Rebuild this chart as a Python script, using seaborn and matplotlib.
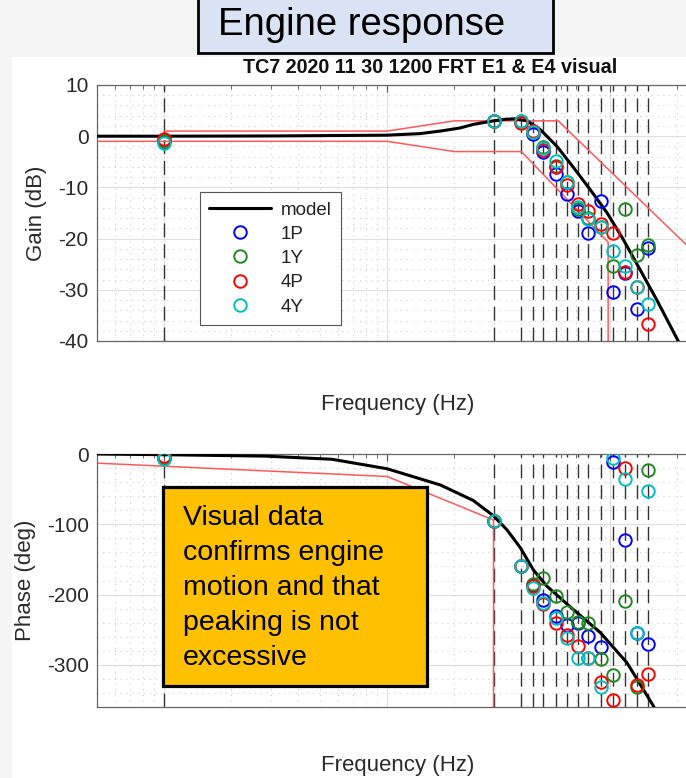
import matplotlib
matplotlib.use("Agg")
import matplotlib.pyplot as plt
import seaborn as sns
from matplotlib.lines import Line2D
from matplotlib.patches import Rectangle
from matplotlib.ticker import LogLocator, MultipleLocator, NullFormatter

# ---------------------------------------------------------------- data
# test frequencies (Hz)
freq = [0.01, 0.30, 0.40, 0.45, 0.50, 0.57, 0.64, 0.72, 0.80, 0.91, 1.03, 1.17, 1.32, 1.48]

gain_1P = [-1.0, 3.0, 2.7, 0.5, -3.0, -7.4, -11.3, -14.6, -18.9, -12.6, -30.4, -26.8, -33.8, -21.8]
gain_1Y = [-1.0, 3.0, 3.0, 0.8, -2.2, -5.8, -9.0, -14.3, -16.0, -17.7, -25.4, -14.3, -23.2, -21.2]
gain_4P = [-0.6, 3.0, 2.5, 1.0, -2.6, -6.1, -9.5, -13.3, -14.6, -17.2, -19.0, -26.5, -29.4, -36.6]
gain_4Y = [-1.3, 3.0, 3.0, 0.8, -2.4, -4.8, -9.0, -13.9, -16.2, -17.8, -22.5, -25.3, -29.4, -32.8]

phase_1P = [-6, -96, -159, -186, -208, -230, -243, -241, -259, -274, -12, -122, -254, -271]
phase_1Y = [-6, -96, -159, -185, -176, -202, -225, -239, -240, -292, -315, -209, -332, -23]
phase_4P = [-3, -96, -159, -188, -214, -240, -257, -273, -290, -325, -350, -20, -328, -313]
phase_4Y = [-7, -96, -159, -190, -212, -234, -262, -290, -290, -331, -5, -36, -254, -52]

# engine model response
model_gain_f = [0.005, 0.01, 0.0315, 0.1, 0.14, 0.173, 0.212, 0.243, 0.30, 0.338, 0.375,
                0.424, 0.486, 0.578, 0.682, 0.813, 0.97, 1.14, 1.36, 1.62, 2.02, 2.3]
model_gain_db = [0.0, 0.0, 0.05, 0.2, 0.5, 1.0, 1.6, 2.3, 3.0, 3.3, 3.4,
                 3.0, 1.3, -2.0, -6.0, -10.4, -15.0, -20.0, -26.0, -32.0, -40.0, -45.0]
model_phase_f = [0.005, 0.01, 0.0283, 0.0566, 0.1, 0.173, 0.243, 0.30, 0.345, 0.395,
                 0.453, 0.52, 0.682, 0.903, 1.19, 1.56, 1.7]
model_phase_deg = [0, -1, -3, -7.5, -21, -44, -66, -88, -108, -133,
                   -165, -188, -221, -254, -297, -358, -380]

# acceptance envelope
gain_hi_f = [0.01, 0.1, 0.2, 0.585, 2.6]
gain_hi_db = [1.0, 1.0, 3.0, 3.0, -24.3]
gain_lo_f = [0.005, 0.1, 0.2, 0.4, 0.98, 0.98]
gain_lo_db = [-1.0, -1.0, -3.0, -3.0, -20.7, -60.0]
phase_hi_f = [0.005, 1.0, 1.0]
phase_hi_deg = [0, 0, 400]
phase_lo_f = [0.005, 0.1, 0.3, 0.3]
phase_lo_deg = [-13, -32, -94, -500]

series = ["1P", "1Y", "4P", "4Y"]
series_colors = ["#0000ff", "#1f8a1f", "#ff0000", "#00bfbf"]
gain_sets = [gain_1P, gain_1Y, gain_4P, gain_4Y]
phase_sets = [phase_1P, phase_1Y, phase_4P, phase_4Y]

# ---------------------------------------------------------------- style
sns.set_theme(style="white")
plt.rcParams["font.family"] = ["Liberation Sans", "DejaVu Sans"]
plt.rcParams["axes.unicode_minus"] = False

W, H = 686, 778
fig = plt.figure(figsize=(W / 100, H / 100), dpi=100, facecolor="#f5f5f5")


def fx(px):
    return px / W


def fy(py):
    return 1 - py / H


# white page behind the plots
fig.add_artist(Rectangle((fx(12), 0), 1 - fx(12), fy(57), transform=fig.transFigure,
                         facecolor="white", edgecolor="none", zorder=-10))

AX_L, AX_R = 97, 700
ax1 = fig.add_axes([fx(AX_L), fy(341), (AX_R - AX_L) / W, (341 - 85) / H])
ax2 = fig.add_axes([fx(AX_L), fy(707), (AX_R - AX_L) / W, (707 - 454) / H])

xlim = (0.005, 2.53)
red = "#ff5a5a"
TICK_FS = 15
LABEL_FS = 16


def style_axes(ax, ylim, major, minor):
    ax.set_xscale("log")
    ax.set_xlim(*xlim)
    ax.set_ylim(*ylim)
    ax.xaxis.set_major_locator(LogLocator(base=10, numticks=20))
    ax.xaxis.set_minor_locator(LogLocator(base=10, subs=range(2, 10), numticks=20))
    ax.xaxis.set_major_formatter(NullFormatter())
    ax.xaxis.set_minor_formatter(NullFormatter())
    ax.yaxis.set_major_locator(MultipleLocator(major))
    ax.yaxis.set_minor_locator(MultipleLocator(minor))
    ax.grid(which="major", color="#dedede", lw=0.8, ls="-")
    ax.grid(which="minor", color="#c4c4c4", lw=0.7, ls=(0, (1, 5)))
    ax.set_axisbelow(True)
    ax.tick_params(which="both", direction="in", top=True, right=True,
                   colors="#555555", labelcolor="#2a2a2a", labelsize=TICK_FS, pad=6)
    ax.tick_params(which="major", length=5, width=0.8)
    ax.tick_params(which="minor", length=3, width=0.6)
    for s in ax.spines.values():
        s.set_color("#666666")
        s.set_linewidth(0.9)
    ax.set_facecolor("white")


def draw_panel(ax, mf, mv, lo_f, lo_v, hi_f, hi_v, sets):
    for f in freq:
        ax.axvline(f, color="#333333", lw=1.0, ls=(0, (10, 5)), zorder=1.5)
    sns.lineplot(x=lo_f, y=lo_v, ax=ax, color=red, lw=1.1, estimator=None, sort=False, zorder=2)
    sns.lineplot(x=hi_f, y=hi_v, ax=ax, color=red, lw=1.1, estimator=None, sort=False, zorder=2)
    sns.lineplot(x=mf, y=mv, ax=ax, color="black", lw=2.2, estimator=None, sort=False, zorder=3)
    for vals, c in zip(sets, series_colors):
        sns.lineplot(x=freq, y=vals, ax=ax, estimator=None, sort=False, linestyle="",
                     marker="o", markersize=9, markerfacecolor="none",
                     markeredgecolor=c, markeredgewidth=1.4, color=c, zorder=4)


style_axes(ax1, (-40, 10), 10, 2)
style_axes(ax2, (-360, 0), 100, 20)
draw_panel(ax1, model_gain_f, model_gain_db, gain_lo_f, gain_lo_db, gain_hi_f, gain_hi_db, gain_sets)
draw_panel(ax2, model_phase_f, model_phase_deg, phase_lo_f, phase_lo_deg, phase_hi_f, phase_hi_deg, phase_sets)
ax1.set_ylim(-40, 10)
ax2.set_ylim(-360, 0)
ax1.set_xlim(*xlim)
ax2.set_xlim(*xlim)

for ax, lab in [(ax1, "Gain (dB)"), (ax2, "Phase (deg)")]:
    ax.set_ylabel(lab, fontsize=LABEL_FS, color="#2a2a2a", labelpad=8)
    ax.set_xlabel("Frequency (Hz)", fontsize=LABEL_FS, color="#2a2a2a")
ax1.xaxis.set_label_coords((398 - AX_L) / (AX_R - AX_L), (341 - 394) / 256)
ax2.xaxis.set_label_coords((398 - AX_L) / (AX_R - AX_L), (707 - 755) / 253)

ax1.set_title("TC7 2020 11 30 1200 FRT E1 & E4 visual", fontsize=14.2,
              fontweight="bold", pad=9, color="#111111",
              x=(430 - AX_L) / (AX_R - AX_L))

# legend
handles = [Line2D([], [], color="black", lw=2.2)]
for c in series_colors:
    handles.append(Line2D([], [], ls="", marker="o", ms=9, mfc="none", mec=c, mew=1.4))
leg = ax1.legend(handles, ["model"] + series, loc="upper left",
                 bbox_to_anchor=((200 - AX_L) / (AX_R - AX_L), (341 - 192) / 256),
                 borderaxespad=0, fontsize=13.5, handlelength=3.3, handletextpad=0.5,
                 labelspacing=0.38, borderpad=0.5, frameon=True, fancybox=False,
                 framealpha=1, edgecolor="#555555")
leg.get_frame().set_linewidth(0.8)
for t in leg.get_texts():
    t.set_color("#222222")

# heading box
fig.add_artist(Rectangle((fx(198), fy(53)), fx(553 - 198), 60 / H, transform=fig.transFigure,
                         facecolor="#dae3f3", edgecolor="black", lw=2, zorder=5))
fig.text(fx(218), fy(35), "Engine response", fontsize=27.5, va="baseline", ha="left",
         color="black", zorder=6)

# call-out box
fig.add_artist(Rectangle((fx(163), fy(686)), fx(427 - 163), (686 - 487) / H,
                         transform=fig.transFigure, facecolor="#ffc000",
                         edgecolor="black", lw=2.3, zorder=5))
note_lines = ["Visual data", "confirms engine", "motion and that", "peaking is not", "excessive"]
for i, line in enumerate(note_lines):
    fig.text(fx(183), fy(525 + 35 * i), line, fontsize=20.5, va="baseline", ha="left",
             color="black", zorder=6)

fig.savefig("out.png", dpi=100, facecolor=fig.get_facecolor())
